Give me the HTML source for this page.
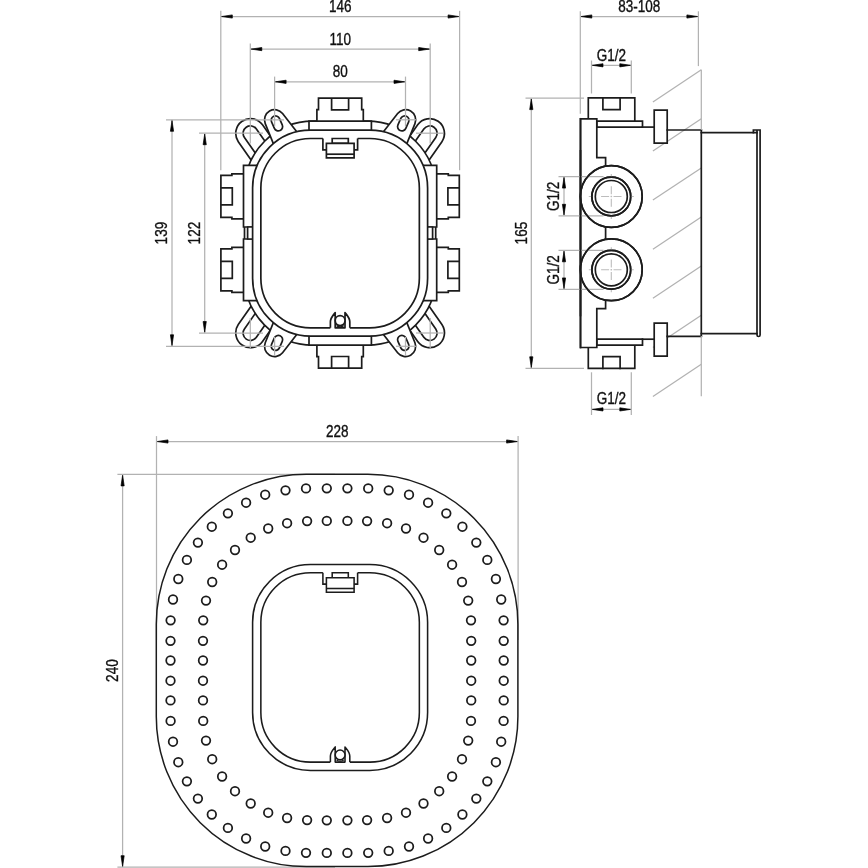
<!DOCTYPE html>
<html lang="en"><head><meta charset="utf-8"><title>Dimensional drawing</title>
<style>html,body{margin:0;padding:0;background:#fff}body{width:868px;height:868px;overflow:hidden}svg{display:block;filter:grayscale(1)}</style>
</head><body>
<svg width="868" height="868" viewBox="0 0 868 868" font-family="'Liberation Sans', Arial, sans-serif">
<rect width="868" height="868" fill="#fff"/>
<g stroke="#b2b2b2" stroke-width="1.25" fill="none">
<line x1="652.90" y1="101.90" x2="701.30" y2="69.70"/>
<line x1="652.90" y1="151.00" x2="701.30" y2="118.80"/>
<line x1="652.90" y1="200.10" x2="701.30" y2="167.90"/>
<line x1="652.90" y1="249.20" x2="701.30" y2="217.00"/>
<line x1="652.90" y1="298.30" x2="701.30" y2="266.10"/>
<line x1="652.90" y1="347.40" x2="701.30" y2="315.20"/>
<line x1="652.90" y1="396.50" x2="701.30" y2="364.30"/>
<line x1="156.50" y1="436.10" x2="156.50" y2="640.00"/>
<line x1="518.10" y1="436.10" x2="518.10" y2="640.00"/>
<line x1="156.50" y1="441.50" x2="518.10" y2="441.50"/>
<line x1="117.40" y1="474.40" x2="335.00" y2="474.40"/>
<line x1="117.40" y1="867.20" x2="335.00" y2="867.20"/>
<line x1="122.60" y1="474.40" x2="122.60" y2="867.20"/>
</g>
<g stroke="#1c1c1c" stroke-width="1.7" fill="none" stroke-linejoin="round" stroke-linecap="butt" transform="translate(340.1,233.15)">
<g transform="scale(1,1)">
<path d="M-78.88,-58.69L-101.82,-91.46A14.8,14.8 0 0 1 -77.58,-108.44L-54.63,-75.67" fill="#fff" />
<path d="M-78.47,-71.19L-95.68,-95.76A7.3,7.3 0 0 1 -83.72,-104.14L-66.51,-79.56" fill="#fff" />
</g>
<g transform="scale(1,-1)">
<path d="M-78.88,-58.69L-101.82,-91.46A14.8,14.8 0 0 1 -77.58,-108.44L-54.63,-75.67" fill="#fff" />
<path d="M-78.47,-71.19L-95.68,-95.76A7.3,7.3 0 0 1 -83.72,-104.14L-66.51,-79.56" fill="#fff" />
</g>
<g transform="scale(-1,1)">
<path d="M-78.88,-58.69L-101.82,-91.46A14.8,14.8 0 0 1 -77.58,-108.44L-54.63,-75.67" fill="#fff" />
<path d="M-78.47,-71.19L-95.68,-95.76A7.3,7.3 0 0 1 -83.72,-104.14L-66.51,-79.56" fill="#fff" />
</g>
<g transform="scale(-1,-1)">
<path d="M-78.88,-58.69L-101.82,-91.46A14.8,14.8 0 0 1 -77.58,-108.44L-54.63,-75.67" fill="#fff" />
<path d="M-78.47,-71.19L-95.68,-95.76A7.3,7.3 0 0 1 -83.72,-104.14L-66.51,-79.56" fill="#fff" />
</g>
<path d="M-27.00,-112.00H27.00A68.6,68.6 0 0 1 95.60,-43.40V43.40A68.6,68.6 0 0 1 27.00,112.00H-27.00A68.6,68.6 0 0 1 -95.60,43.40V-43.40A68.6,68.6 0 0 1 -27.00,-112.00Z" fill="#fff" />
<g stroke-linejoin="miter">
<path d="M-23.20,-112.05V-123.55H-21.60V-134.95H21.60V-123.55H23.20V-112.05" fill="#fff" />
<path d="M-8.50,-134.95V-123.35H8.50V-134.95" fill="none" />
<path d="M-23.20,112.05V123.55H-21.60V134.95H21.60V123.55H23.20V112.05" fill="#fff" />
<path d="M-8.50,134.95V123.35H8.50V134.95" fill="none" />
<path d="M-96.60,-59.30H-108.20V-57.80H-119.20V-15.80H-108.20V-14.30H-96.60" fill="#fff" />
<path d="M-119.20,-45.30H-107.80V-28.30H-119.20" fill="none" />
<path d="M96.60,-59.30H108.20V-57.80H119.20V-15.80H108.20V-14.30H96.60" fill="#fff" />
<path d="M119.20,-45.30H107.80V-28.30H119.20" fill="none" />
<path d="M-96.60,14.30H-108.20V15.80H-119.20V57.80H-108.20V59.30H-96.60" fill="#fff" />
<path d="M-119.20,28.30H-107.80V45.30H-119.20" fill="none" />
<path d="M96.60,14.30H108.20V15.80H119.20V57.80H108.20V59.30H96.60" fill="#fff" />
<path d="M119.20,28.30H107.80V45.30H119.20" fill="none" />
<path d="M-31.10,-112.05H31.30V-102.15H-31.10Z" fill="#fff" />
<path d="M-31.10,102.15H31.30V112.05H-31.10Z" fill="#fff" />
<g transform="scale(1,1)">
<path d="M-96.60,-67.85H-78.10V-6.15H-96.60Z" fill="#fff" />
<path d="M-96.60,5.85H-78.10V67.55H-96.60Z" fill="#fff" />
<path d="M-92.50,-6.15H-78.10V5.85H-92.50Z" fill="#fff" />
</g>
<g transform="scale(-1,1)">
<path d="M-96.60,-67.85H-78.10V-6.15H-96.60Z" fill="#fff" />
<path d="M-96.60,5.85H-78.10V67.55H-96.60Z" fill="#fff" />
<path d="M-92.50,-6.15H-78.10V5.85H-92.50Z" fill="#fff" />
</g>
</g>
<g transform="scale(1,1)">
<path d="M-65.12,-85.46L-74.86,-109.57A10.1,10.1 0 0 1 -57.54,-119.57L-39.07,-95.93" fill="#fff" />
<rect x="-7.80" y="-4.30" width="15.6" height="8.6" rx="4.3" ry="4.3" fill="#fff" transform="translate(-63.20,-109.75) rotate(66)"/>
</g>
<g transform="scale(1,-1)">
<path d="M-65.12,-85.46L-74.86,-109.57A10.1,10.1 0 0 1 -57.54,-119.57L-39.07,-95.93" fill="#fff" />
<rect x="-7.80" y="-4.30" width="15.6" height="8.6" rx="4.3" ry="4.3" fill="#fff" transform="translate(-63.20,-109.75) rotate(66)"/>
</g>
<g transform="scale(-1,1)">
<path d="M-65.12,-85.46L-74.86,-109.57A10.1,10.1 0 0 1 -57.54,-119.57L-39.07,-95.93" fill="#fff" />
<rect x="-7.80" y="-4.30" width="15.6" height="8.6" rx="4.3" ry="4.3" fill="#fff" transform="translate(-63.20,-109.75) rotate(66)"/>
</g>
<g transform="scale(-1,-1)">
<path d="M-65.12,-85.46L-74.86,-109.57A10.1,10.1 0 0 1 -57.54,-119.57L-39.07,-95.93" fill="#fff" />
<rect x="-7.80" y="-4.30" width="15.6" height="8.6" rx="4.3" ry="4.3" fill="#fff" transform="translate(-63.20,-109.75) rotate(66)"/>
</g>
<path d="M-29.70,-102.95H29.70A57.8,57.8 0 0 1 87.50,-45.15V45.15A57.8,57.8 0 0 1 29.70,102.95H-29.70A57.8,57.8 0 0 1 -87.50,45.15V-45.15A57.8,57.8 0 0 1 -29.70,-102.95Z" fill="#fff" />
<path d="M17.50,-94.65H29.75A49.5,49.5 0 0 1 79.25,-45.15V45.15A49.5,49.5 0 0 1 29.75,94.65H9.70" fill="none" />
<path d="M-9.70,94.65H-29.75A49.5,49.5 0 0 1 -79.25,45.15V-45.15A49.5,49.5 0 0 1 -29.75,-94.65H-17.20" fill="none" />
<g stroke-linejoin="miter">
<path d="M-17.20,-94.65V-83.35H-13.70M17.50,-94.65V-83.35H14.00" fill="none" />
<path d="M-7.90,-94.65H8.20V-89.75H-7.90Z" fill="#fff" />
<path d="M-13.70,-89.75H14.00V-75.25H-13.70Z" fill="#fff" />
<path d="M-13.70,-78.95H14.00" fill="none" />
</g>
<path d="M-9.70,94.65V88.65C-9.70,84.65 -7.40,82.45 -4.90,79.45V94.65H4.90V79.45C7.40,82.45 9.70,84.65 9.70,88.65V94.65" fill="none" />
<circle cx="0" cy="87.45" r="4.9" fill="#fff"/>
<path d="M-3.60,92.45Q0,95.05 3.6,92.45" fill="none" stroke-width="1.36" />
</g>
<g stroke="#1c1c1c" stroke-width="1.7" fill="none" stroke-linejoin="miter" stroke-linecap="square">
<path d="M588.3,120.90V97.90H634.8V120.90" fill="#fff" />
<path d="M602.9,97.90V109.60H620.1V97.90" fill="none" />
<path d="M588.3,345.40V368.40H634.8V345.40" fill="#fff" />
<path d="M602.9,368.40V356.70H620.1V368.40" fill="none" />
<path d="M596.80,121.20H642.50V127.10H596.80Z" fill="#fff" />
<path d="M642.5,127.10H654.2" fill="none" />
<path d="M654.20,110.20H667.20V143.20H654.20Z" fill="#fff" />
<path d="M667.2,130.00H701.3" fill="none" />
<path d="M701.3,132.70H757" fill="none" />
<path d="M596.80,339.20H642.50V345.10H596.80Z" fill="#fff" />
<path d="M642.5,339.20H654.2" fill="none" />
<path d="M654.20,323.10H667.20V356.10H654.20Z" fill="#fff" />
<path d="M667.2,336.30H701.3" fill="none" />
<path d="M701.3,333.60H757" fill="none" />
<path d="M701.3,130V336.30" fill="none" />
<path d="M753.4,132.6V130H760.1V335.10Q760.1,336.50 758.55,336.50Q757,336.50 757,335.10V130.4" fill="none" />
<path d="M580.5,118.8H596.8V157.7H605.6V308.60H596.8V347.50H580.5Z" fill="#fff" />
<circle cx="611.3" cy="196.50" r="30.9" fill="#fff"/>
<circle cx="611.3" cy="196.50" r="19.4" fill="none"/>
<circle cx="611.3" cy="196.50" r="16.0" fill="none"/>
<circle cx="611.3" cy="269.80" r="30.9" fill="#fff"/>
<circle cx="611.3" cy="269.80" r="19.4" fill="none"/>
<circle cx="611.3" cy="269.80" r="16.0" fill="none"/>
<path d="M580.5,118.8V347.50" fill="none" />
</g>
<g stroke="#1c1c1c" stroke-width="1.5" fill="none">
<path d="M306.30,474.30H367.90A150,150 0 0 1 517.90,624.30V716.60A150,150 0 0 1 367.90,866.60H306.30A150,150 0 0 1 156.30,716.60V624.30A150,150 0 0 1 306.30,474.30Z" fill="none" />
<circle cx="326.8" cy="488.3" r="4.3" stroke-width="1.75"/>
<circle cx="326.8" cy="852.9" r="4.3" stroke-width="1.75"/>
<circle cx="347.4" cy="488.3" r="4.3" stroke-width="1.75"/>
<circle cx="347.4" cy="852.9" r="4.3" stroke-width="1.75"/>
<circle cx="306.0" cy="488.4" r="4.3" stroke-width="1.75"/>
<circle cx="306.0" cy="852.8" r="4.3" stroke-width="1.75"/>
<circle cx="368.2" cy="488.4" r="4.3" stroke-width="1.75"/>
<circle cx="368.2" cy="852.8" r="4.3" stroke-width="1.75"/>
<circle cx="285.5" cy="490.3" r="4.3" stroke-width="1.75"/>
<circle cx="285.5" cy="850.9" r="4.3" stroke-width="1.75"/>
<circle cx="388.7" cy="490.3" r="4.3" stroke-width="1.75"/>
<circle cx="388.7" cy="850.9" r="4.3" stroke-width="1.75"/>
<circle cx="265.2" cy="494.7" r="4.3" stroke-width="1.75"/>
<circle cx="265.2" cy="846.5" r="4.3" stroke-width="1.75"/>
<circle cx="409.0" cy="494.7" r="4.3" stroke-width="1.75"/>
<circle cx="409.0" cy="846.5" r="4.3" stroke-width="1.75"/>
<circle cx="246.1" cy="502.7" r="4.3" stroke-width="1.75"/>
<circle cx="246.1" cy="838.5" r="4.3" stroke-width="1.75"/>
<circle cx="428.1" cy="502.7" r="4.3" stroke-width="1.75"/>
<circle cx="428.1" cy="838.5" r="4.3" stroke-width="1.75"/>
<circle cx="227.9" cy="513.3" r="4.3" stroke-width="1.75"/>
<circle cx="227.9" cy="827.9" r="4.3" stroke-width="1.75"/>
<circle cx="446.3" cy="513.3" r="4.3" stroke-width="1.75"/>
<circle cx="446.3" cy="827.9" r="4.3" stroke-width="1.75"/>
<circle cx="211.8" cy="526.7" r="4.3" stroke-width="1.75"/>
<circle cx="211.8" cy="814.5" r="4.3" stroke-width="1.75"/>
<circle cx="462.4" cy="526.7" r="4.3" stroke-width="1.75"/>
<circle cx="462.4" cy="814.5" r="4.3" stroke-width="1.75"/>
<circle cx="197.9" cy="542.6" r="4.3" stroke-width="1.75"/>
<circle cx="197.9" cy="798.6" r="4.3" stroke-width="1.75"/>
<circle cx="476.3" cy="542.6" r="4.3" stroke-width="1.75"/>
<circle cx="476.3" cy="798.6" r="4.3" stroke-width="1.75"/>
<circle cx="186.9" cy="559.9" r="4.3" stroke-width="1.75"/>
<circle cx="186.9" cy="781.3" r="4.3" stroke-width="1.75"/>
<circle cx="487.3" cy="559.9" r="4.3" stroke-width="1.75"/>
<circle cx="487.3" cy="781.3" r="4.3" stroke-width="1.75"/>
<circle cx="178.3" cy="579.0" r="4.3" stroke-width="1.75"/>
<circle cx="178.3" cy="762.2" r="4.3" stroke-width="1.75"/>
<circle cx="495.9" cy="579.0" r="4.3" stroke-width="1.75"/>
<circle cx="495.9" cy="762.2" r="4.3" stroke-width="1.75"/>
<circle cx="173.0" cy="599.5" r="4.3" stroke-width="1.75"/>
<circle cx="173.0" cy="741.7" r="4.3" stroke-width="1.75"/>
<circle cx="501.2" cy="599.5" r="4.3" stroke-width="1.75"/>
<circle cx="501.2" cy="741.7" r="4.3" stroke-width="1.75"/>
<circle cx="170.6" cy="620.3" r="4.3" stroke-width="1.75"/>
<circle cx="170.6" cy="720.9" r="4.3" stroke-width="1.75"/>
<circle cx="503.6" cy="620.3" r="4.3" stroke-width="1.75"/>
<circle cx="503.6" cy="720.9" r="4.3" stroke-width="1.75"/>
<circle cx="170.5" cy="640.8" r="4.3" stroke-width="1.75"/>
<circle cx="170.5" cy="700.4" r="4.3" stroke-width="1.75"/>
<circle cx="503.7" cy="640.8" r="4.3" stroke-width="1.75"/>
<circle cx="503.7" cy="700.4" r="4.3" stroke-width="1.75"/>
<circle cx="170.5" cy="660.5" r="4.3" stroke-width="1.75"/>
<circle cx="170.5" cy="680.7" r="4.3" stroke-width="1.75"/>
<circle cx="503.7" cy="660.5" r="4.3" stroke-width="1.75"/>
<circle cx="503.7" cy="680.7" r="4.3" stroke-width="1.75"/>
<circle cx="326.8" cy="520.9" r="4.3" stroke-width="1.75"/>
<circle cx="326.8" cy="820.3" r="4.3" stroke-width="1.75"/>
<circle cx="347.4" cy="520.9" r="4.3" stroke-width="1.75"/>
<circle cx="347.4" cy="820.3" r="4.3" stroke-width="1.75"/>
<circle cx="307.1" cy="521.1" r="4.3" stroke-width="1.75"/>
<circle cx="307.1" cy="820.1" r="4.3" stroke-width="1.75"/>
<circle cx="367.1" cy="521.1" r="4.3" stroke-width="1.75"/>
<circle cx="367.1" cy="820.1" r="4.3" stroke-width="1.75"/>
<circle cx="287.1" cy="523.2" r="4.3" stroke-width="1.75"/>
<circle cx="287.1" cy="818.0" r="4.3" stroke-width="1.75"/>
<circle cx="387.1" cy="523.2" r="4.3" stroke-width="1.75"/>
<circle cx="387.1" cy="818.0" r="4.3" stroke-width="1.75"/>
<circle cx="268.2" cy="528.5" r="4.3" stroke-width="1.75"/>
<circle cx="268.2" cy="812.7" r="4.3" stroke-width="1.75"/>
<circle cx="406.0" cy="528.5" r="4.3" stroke-width="1.75"/>
<circle cx="406.0" cy="812.7" r="4.3" stroke-width="1.75"/>
<circle cx="250.7" cy="537.7" r="4.3" stroke-width="1.75"/>
<circle cx="250.7" cy="803.5" r="4.3" stroke-width="1.75"/>
<circle cx="423.5" cy="537.7" r="4.3" stroke-width="1.75"/>
<circle cx="423.5" cy="803.5" r="4.3" stroke-width="1.75"/>
<circle cx="235.0" cy="550.0" r="4.3" stroke-width="1.75"/>
<circle cx="235.0" cy="791.2" r="4.3" stroke-width="1.75"/>
<circle cx="439.2" cy="550.0" r="4.3" stroke-width="1.75"/>
<circle cx="439.2" cy="791.2" r="4.3" stroke-width="1.75"/>
<circle cx="222.1" cy="564.7" r="4.3" stroke-width="1.75"/>
<circle cx="222.1" cy="776.5" r="4.3" stroke-width="1.75"/>
<circle cx="452.1" cy="564.7" r="4.3" stroke-width="1.75"/>
<circle cx="452.1" cy="776.5" r="4.3" stroke-width="1.75"/>
<circle cx="212.2" cy="582.0" r="4.3" stroke-width="1.75"/>
<circle cx="212.2" cy="759.2" r="4.3" stroke-width="1.75"/>
<circle cx="462.0" cy="582.0" r="4.3" stroke-width="1.75"/>
<circle cx="462.0" cy="759.2" r="4.3" stroke-width="1.75"/>
<circle cx="206.0" cy="600.6" r="4.3" stroke-width="1.75"/>
<circle cx="206.0" cy="740.6" r="4.3" stroke-width="1.75"/>
<circle cx="468.2" cy="600.6" r="4.3" stroke-width="1.75"/>
<circle cx="468.2" cy="740.6" r="4.3" stroke-width="1.75"/>
<circle cx="203.2" cy="620.3" r="4.3" stroke-width="1.75"/>
<circle cx="203.2" cy="720.9" r="4.3" stroke-width="1.75"/>
<circle cx="471.0" cy="620.3" r="4.3" stroke-width="1.75"/>
<circle cx="471.0" cy="720.9" r="4.3" stroke-width="1.75"/>
<circle cx="203.0" cy="640.8" r="4.3" stroke-width="1.75"/>
<circle cx="203.0" cy="700.4" r="4.3" stroke-width="1.75"/>
<circle cx="471.2" cy="640.8" r="4.3" stroke-width="1.75"/>
<circle cx="471.2" cy="700.4" r="4.3" stroke-width="1.75"/>
<circle cx="203.0" cy="660.5" r="4.3" stroke-width="1.75"/>
<circle cx="203.0" cy="680.7" r="4.3" stroke-width="1.75"/>
<circle cx="471.2" cy="660.5" r="4.3" stroke-width="1.75"/>
<circle cx="471.2" cy="680.7" r="4.3" stroke-width="1.75"/>
</g>
<g stroke="#1c1c1c" stroke-width="1.55" fill="none" stroke-linejoin="round" stroke-linecap="butt" transform="translate(340.1,667.45)">
<path d="M-29.70,-102.95H29.70A57.8,57.8 0 0 1 87.50,-45.15V45.15A57.8,57.8 0 0 1 29.70,102.95H-29.70A57.8,57.8 0 0 1 -87.50,45.15V-45.15A57.8,57.8 0 0 1 -29.70,-102.95Z" fill="#fff" />
<path d="M17.50,-94.65H29.75A49.5,49.5 0 0 1 79.25,-45.15V45.15A49.5,49.5 0 0 1 29.75,94.65H9.70" fill="none" />
<path d="M-9.70,94.65H-29.75A49.5,49.5 0 0 1 -79.25,45.15V-45.15A49.5,49.5 0 0 1 -29.75,-94.65H-17.20" fill="none" />
<g stroke-linejoin="miter">
<path d="M-17.20,-94.65V-83.35H-13.70M17.50,-94.65V-83.35H14.00" fill="none" />
<path d="M-7.90,-94.65H8.20V-89.75H-7.90Z" fill="#fff" />
<path d="M-13.70,-89.75H14.00V-75.25H-13.70Z" fill="#fff" />
<path d="M-13.70,-78.95H14.00" fill="none" />
</g>
<path d="M-9.70,94.65V88.65C-9.70,84.65 -7.40,82.45 -4.90,79.45V94.65H4.90V79.45C7.40,82.45 9.70,84.65 9.70,88.65V94.65" fill="none" />
<circle cx="0" cy="87.45" r="4.9" fill="#fff"/>
<path d="M-3.60,92.45Q0,95.05 3.6,92.45" fill="none" stroke-width="1.2400000000000002" />
</g>
<g stroke="#b2b2b2" stroke-width="1.25" fill="none">
<line x1="220.80" y1="10.80" x2="220.80" y2="170.20"/>
<line x1="459.60" y1="10.80" x2="459.60" y2="170.20"/>
<line x1="220.80" y1="16.50" x2="459.60" y2="16.50"/>
<line x1="250.30" y1="43.50" x2="250.30" y2="143.50"/>
<line x1="430.20" y1="43.50" x2="430.20" y2="143.50"/>
<line x1="250.30" y1="49.10" x2="430.20" y2="49.10"/>
<line x1="274.60" y1="76.60" x2="274.60" y2="126.50"/>
<line x1="405.50" y1="76.60" x2="405.50" y2="126.50"/>
<line x1="274.60" y1="81.80" x2="405.50" y2="81.80"/>
<line x1="166.00" y1="119.80" x2="284.00" y2="119.80"/>
<line x1="166.00" y1="346.30" x2="284.00" y2="346.30"/>
<line x1="172.00" y1="119.80" x2="172.00" y2="346.30"/>
<line x1="199.00" y1="133.20" x2="263.00" y2="133.20"/>
<line x1="199.00" y1="333.00" x2="263.00" y2="333.00"/>
<line x1="204.70" y1="133.20" x2="204.70" y2="333.00"/>
<line x1="396.00" y1="119.80" x2="416.00" y2="119.80"/>
<line x1="396.00" y1="346.30" x2="416.00" y2="346.30"/>
<line x1="416.00" y1="133.20" x2="443.00" y2="133.20"/>
<line x1="416.00" y1="333.00" x2="443.00" y2="333.00"/>
<line x1="250.30" y1="318.00" x2="250.30" y2="348.00"/>
<line x1="430.20" y1="318.00" x2="430.20" y2="348.00"/>
<line x1="274.60" y1="337.00" x2="274.60" y2="356.00"/>
<line x1="405.50" y1="337.00" x2="405.50" y2="356.00"/>
<line x1="580.30" y1="11.30" x2="580.30" y2="113.70"/>
<line x1="698.40" y1="11.30" x2="698.40" y2="66.10"/>
<line x1="580.30" y1="16.50" x2="698.40" y2="16.50"/>
<line x1="591.50" y1="60.50" x2="591.50" y2="93.50"/>
<line x1="631.30" y1="60.50" x2="631.30" y2="93.50"/>
<line x1="591.50" y1="65.30" x2="631.30" y2="65.30"/>
<line x1="591.50" y1="372.30" x2="591.50" y2="415.00"/>
<line x1="631.30" y1="372.30" x2="631.30" y2="415.00"/>
<line x1="591.50" y1="409.40" x2="631.30" y2="409.40"/>
<line x1="525.50" y1="98.10" x2="584.00" y2="98.10"/>
<line x1="525.50" y1="368.30" x2="584.00" y2="368.30"/>
<line x1="531.30" y1="98.10" x2="531.30" y2="368.30"/>
<line x1="558.50" y1="176.60" x2="603.50" y2="176.60"/>
<line x1="558.50" y1="215.80" x2="603.50" y2="215.80"/>
<line x1="564.00" y1="176.60" x2="564.00" y2="215.80"/>
<line x1="558.50" y1="250.30" x2="603.50" y2="250.30"/>
<line x1="558.50" y1="289.40" x2="603.50" y2="289.40"/>
<line x1="564.00" y1="250.30" x2="564.00" y2="289.40"/>
<line x1="701.30" y1="69.70" x2="701.30" y2="130.00"/>
<line x1="701.30" y1="336.00" x2="701.30" y2="396.30"/>
<path d="M588.80,196.50H592.30M611.30,174.00V177.50M601.10,196.50H609.10M611.30,186.30V194.30M610.50,196.50H612.10M611.30,195.70V197.30M613.50,196.50H621.50M611.30,198.70V206.70M630.30,196.50H633.80M611.30,215.50V219.00" stroke-width="1.1" stroke="#bcbcbc"/>
<path d="M588.80,269.80H592.30M611.30,247.30V250.80M601.10,269.80H609.10M611.30,259.60V267.60M610.50,269.80H612.10M611.30,269.00V270.60M613.50,269.80H621.50M611.30,272.00V280.00M630.30,269.80H633.80M611.30,288.80V292.30" stroke-width="1.1" stroke="#bcbcbc"/>
</g>
<g stroke="#1c1c1c" stroke-width="1.7" fill="none">
<path d="M580.5,150V316.30" fill="none" />
<circle cx="611.3" cy="196.50" r="30.9"/>
<circle cx="611.3" cy="196.50" r="19.4"/>
<circle cx="611.3" cy="269.80" r="30.9"/>
<circle cx="611.3" cy="269.80" r="19.4"/>
</g>
<polygon points="221.70,16.50 232.30,14.90 232.30,18.10" fill="#000" stroke="#000" stroke-width="0.7" stroke-linejoin="round"/>
<polygon points="458.70,16.50 448.10,18.10 448.10,14.90" fill="#000" stroke="#000" stroke-width="0.7" stroke-linejoin="round"/>
<polygon points="251.20,49.10 261.80,47.50 261.80,50.70" fill="#000" stroke="#000" stroke-width="0.7" stroke-linejoin="round"/>
<polygon points="429.30,49.10 418.70,50.70 418.70,47.50" fill="#000" stroke="#000" stroke-width="0.7" stroke-linejoin="round"/>
<polygon points="275.50,81.80 286.10,80.20 286.10,83.40" fill="#000" stroke="#000" stroke-width="0.7" stroke-linejoin="round"/>
<polygon points="404.60,81.80 394.00,83.40 394.00,80.20" fill="#000" stroke="#000" stroke-width="0.7" stroke-linejoin="round"/>
<polygon points="172.00,120.70 173.60,131.30 170.40,131.30" fill="#000" stroke="#000" stroke-width="0.7" stroke-linejoin="round"/>
<polygon points="172.00,345.40 170.40,334.80 173.60,334.80" fill="#000" stroke="#000" stroke-width="0.7" stroke-linejoin="round"/>
<polygon points="204.70,134.10 206.30,144.70 203.10,144.70" fill="#000" stroke="#000" stroke-width="0.7" stroke-linejoin="round"/>
<polygon points="204.70,332.10 203.10,321.50 206.30,321.50" fill="#000" stroke="#000" stroke-width="0.7" stroke-linejoin="round"/>
<polygon points="581.20,16.50 591.80,14.90 591.80,18.10" fill="#000" stroke="#000" stroke-width="0.7" stroke-linejoin="round"/>
<polygon points="697.50,16.50 686.90,18.10 686.90,14.90" fill="#000" stroke="#000" stroke-width="0.7" stroke-linejoin="round"/>
<polygon points="592.40,65.30 603.00,63.70 603.00,66.90" fill="#000" stroke="#000" stroke-width="0.7" stroke-linejoin="round"/>
<polygon points="630.40,65.30 619.80,66.90 619.80,63.70" fill="#000" stroke="#000" stroke-width="0.7" stroke-linejoin="round"/>
<polygon points="592.40,409.40 603.00,407.80 603.00,411.00" fill="#000" stroke="#000" stroke-width="0.7" stroke-linejoin="round"/>
<polygon points="630.40,409.40 619.80,411.00 619.80,407.80" fill="#000" stroke="#000" stroke-width="0.7" stroke-linejoin="round"/>
<polygon points="531.30,99.00 532.90,109.60 529.70,109.60" fill="#000" stroke="#000" stroke-width="0.7" stroke-linejoin="round"/>
<polygon points="531.30,367.40 529.70,356.80 532.90,356.80" fill="#000" stroke="#000" stroke-width="0.7" stroke-linejoin="round"/>
<polygon points="564.00,177.50 565.60,188.10 562.40,188.10" fill="#000" stroke="#000" stroke-width="0.7" stroke-linejoin="round"/>
<polygon points="564.00,214.90 562.40,204.30 565.60,204.30" fill="#000" stroke="#000" stroke-width="0.7" stroke-linejoin="round"/>
<polygon points="564.00,251.20 565.60,261.80 562.40,261.80" fill="#000" stroke="#000" stroke-width="0.7" stroke-linejoin="round"/>
<polygon points="564.00,288.50 562.40,277.90 565.60,277.90" fill="#000" stroke="#000" stroke-width="0.7" stroke-linejoin="round"/>
<polygon points="157.40,441.50 168.00,439.90 168.00,443.10" fill="#000" stroke="#000" stroke-width="0.7" stroke-linejoin="round"/>
<polygon points="517.20,441.50 506.60,443.10 506.60,439.90" fill="#000" stroke="#000" stroke-width="0.7" stroke-linejoin="round"/>
<polygon points="122.60,475.30 124.20,485.90 121.00,485.90" fill="#000" stroke="#000" stroke-width="0.7" stroke-linejoin="round"/>
<polygon points="122.60,866.30 121.00,855.70 124.20,855.70" fill="#000" stroke="#000" stroke-width="0.7" stroke-linejoin="round"/>
<text transform="translate(340.30,12.10) scale(0.8,1)" font-size="16.9" text-anchor="middle" fill="#111" stroke="#111" stroke-width="0.35">146</text>
<text transform="translate(340.30,44.80) scale(0.8,1)" font-size="16.9" text-anchor="middle" fill="#111" stroke="#111" stroke-width="0.35">110</text>
<text transform="translate(340.30,77.40) scale(0.8,1)" font-size="16.9" text-anchor="middle" fill="#111" stroke="#111" stroke-width="0.35">80</text>
<text transform="translate(167.10,233.10) rotate(-90) scale(0.8,1)" font-size="16.9" text-anchor="middle" fill="#111" stroke="#111" stroke-width="0.35">139</text>
<text transform="translate(200.40,233.10) rotate(-90) scale(0.8,1)" font-size="16.9" text-anchor="middle" fill="#111" stroke="#111" stroke-width="0.35">122</text>
<text transform="translate(639.30,12.10) scale(0.8,1)" font-size="16.9" text-anchor="middle" fill="#111" stroke="#111" stroke-width="0.35">83-108</text>
<text transform="translate(611.40,60.60) scale(0.8,1)" font-size="16.9" text-anchor="middle" fill="#111" stroke="#111" stroke-width="0.35">G1/2</text>
<text transform="translate(611.40,403.80) scale(0.8,1)" font-size="16.9" text-anchor="middle" fill="#111" stroke="#111" stroke-width="0.35">G1/2</text>
<text transform="translate(559.20,196.30) rotate(-90) scale(0.8,1)" font-size="16.9" text-anchor="middle" fill="#111" stroke="#111" stroke-width="0.35">G1/2</text>
<text transform="translate(559.20,269.80) rotate(-90) scale(0.8,1)" font-size="16.9" text-anchor="middle" fill="#111" stroke="#111" stroke-width="0.35">G1/2</text>
<text transform="translate(526.50,233.10) rotate(-90) scale(0.8,1)" font-size="16.9" text-anchor="middle" fill="#111" stroke="#111" stroke-width="0.35">165</text>
<text transform="translate(337.30,437.00) scale(0.8,1)" font-size="16.9" text-anchor="middle" fill="#111" stroke="#111" stroke-width="0.35">228</text>
<text transform="translate(118.00,670.60) rotate(-90) scale(0.8,1)" font-size="16.9" text-anchor="middle" fill="#111" stroke="#111" stroke-width="0.35">240</text>
</svg>
</body></html>
